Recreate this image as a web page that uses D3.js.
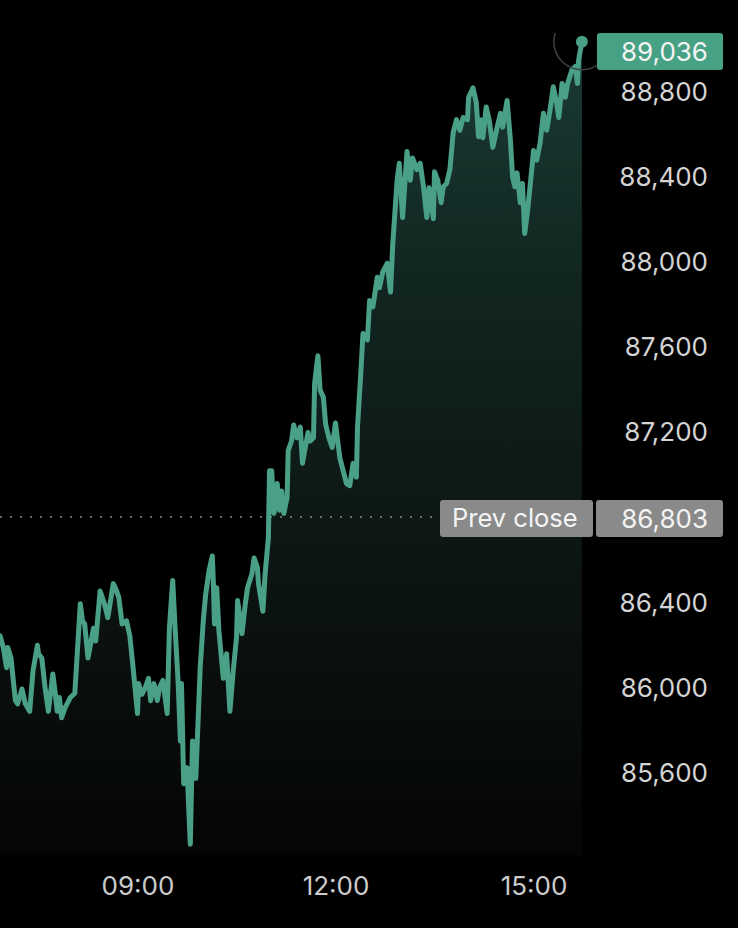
<!DOCTYPE html>
<html>
<head>
<meta charset="utf-8">
<script src="https://cdn.jsdelivr.net/npm/d3@7"></script>
<style>
  html, body { margin: 0; background: #000; }
  svg { display: block; }
  text { font-family: Inter, "Noto Sans", sans-serif; }
</style>
</head>
<body>
<svg id="chart" width="738" height="928"></svg>
<script>
// intraday ticks
const times = [
  "06:55","06:58","07:01","07:02","07:05","07:09","07:11","07:15","07:18","07:22",
  "07:25","07:29","07:30","07:33","07:36","07:39","07:43","07:45","07:47","07:49",
  "07:51","07:54","07:59","08:03","08:08","08:10","08:12","08:15","08:20","08:22",
  "08:26","08:30","08:33","08:38","08:41","08:43","08:46","08:50","08:53","08:56",
  "09:00","09:01","09:04","09:07","09:10","09:12","09:15","09:18","09:20","09:23",
  "09:27","09:29","09:32","09:34","09:37","09:39","09:40","09:42","09:45","09:48",
  "09:50","09:53","09:57","10:00","10:02","10:05","10:08","10:09","10:10","10:12",
  "10:14","10:18","10:21","10:24","10:27","10:30","10:31","10:35","10:38","10:40",
  "10:44","10:46","10:49","10:50","10:54","10:56","10:59","11:00","11:02","11:04",
  "11:07","11:09","11:11","11:13","11:16","11:17","11:20","11:22","11:25","11:28",
  "11:30","11:32","11:35","11:37","11:40","11:41","11:44","11:46","11:49","11:51",
  "11:54","11:57","12:00","12:02","12:04","12:07","12:10","12:13","12:16","12:19",
  "12:20","12:23","12:25","12:29","12:31","12:34","12:38","12:40","12:43","12:47",
  "12:50","12:52","12:56","12:58","13:01","13:05","13:08","13:10","13:14","13:17",
  "13:20","13:23","13:25","13:29","13:30","13:33","13:36","13:38","13:41","13:44",
  "13:47","13:50","13:53","13:56","14:00","14:01","14:05","14:08","14:10","14:12",
  "14:14","14:17","14:20","14:23","14:27","14:30","14:32","14:36","14:39","14:41",
  "14:43","14:45","14:48","14:50","14:52","14:55","14:59","15:00","15:03","15:06",
  "15:09","15:12","15:15","15:18","15:21","15:23","15:26","15:29","15:31","15:35",
  "15:38","15:40","15:41","15:44"
];

const prices = [
  86245,86190,86095,86190,86140,85940,85925,85995,85925,85890,
  86080,86200,86160,86140,86000,85890,86065,85985,85890,85955,
  85860,85905,85955,85975,86395,86315,86300,86140,86280,86220,
  86455,86395,86330,86490,86455,86425,86300,86315,86245,86095,
  85880,86020,85970,86000,86045,85940,86020,85940,86000,86035,
  85880,86280,86505,86300,86020,85750,86020,85550,85625,85265,
  85750,85575,86095,86330,86440,86550,86620,86490,86300,86470,
  86270,86045,86160,85890,86080,86235,86410,86255,86395,86470,
  86535,86610,86565,86490,86360,86535,86705,87020,87020,86820,
  86960,86835,86925,86820,86895,87115,87160,87235,87175,87225,
  87055,87115,87200,87160,87175,87430,87560,87400,87365,87240,
  87175,87130,87245,87160,87080,87020,86960,86950,87055,86990,
  87225,87480,87665,87635,87820,87790,87930,87880,87955,87995,
  87860,88080,88385,88465,88210,88520,88385,88490,88435,88465,
  88355,88210,88350,88205,88425,88385,88280,88355,88370,88435,
  88610,88670,88620,88680,88670,88775,88820,88750,88590,88670,
  88585,88730,88660,88540,88635,88700,88635,88760,88575,88400,
  88355,88420,88280,88370,88135,88260,88465,88525,88480,88560,
  88700,88620,88715,88825,88750,88680,88840,88775,88840,88905,
  88920,88840,88950,89036
];

const yTicks = [85600, 86000, 86400, 87200, 87600, 88000, 88400, 88800];
const xTicks = ["09:00", "12:00", "15:00"];
const timeRange = ["06:55", "15:45"];
const prevClose = 86803;
const lastPrice = 89036;

const parse = d3.timeParse("%H:%M");
const data = times.map((t, i) => ({ t: parse(t), v: prices[i] }));

const svg = d3.select("#chart");
const green = "#49a087";
const plotRight = 583, plotBottom = 855, axisX = 708;

const x = d3.scaleTime()
  .domain(timeRange.map(parse))
  .range([0, plotRight]);

const y = d3.scaleLinear()
  .domain([85600, 88800])
  .range([773, 92]);

// area gradient
const defs = svg.append("defs");
const grad = defs.append("linearGradient")
  .attr("id", "fade")
  .attr("gradientUnits", "userSpaceOnUse")
  .attr("x1", 0).attr("x2", 0)
  .attr("y1", y(lastPrice)).attr("y2", plotBottom);
grad.append("stop").attr("offset", 0).attr("stop-color", "#1a3a33");
grad.append("stop").attr("offset", 0.3).attr("stop-color", "#112520");
grad.append("stop").attr("offset", 0.75).attr("stop-color", "#0a100e");
grad.append("stop").attr("offset", 1).attr("stop-color", "#040505");

defs.append("clipPath").attr("id", "ringClip")
  .append("rect").attr("x", 0).attr("y", 33).attr("width", 597).attr("height", 100);

const area = d3.area()
  .x(d => x(d.t))
  .y0(plotBottom)
  .y1(d => y(d.v));

const line = d3.line()
  .x(d => x(d.t))
  .y(d => y(d.v));

svg.append("path")
  .attr("d", area(data))
  .attr("fill", "url(#fade)");

// prev close dotted line
svg.append("line")
  .attr("x1", 0).attr("x2", 440)
  .attr("y1", y(prevClose)).attr("y2", y(prevClose))
  .attr("stroke", "#8a8a8a")
  .attr("stroke-width", 1.5)
  .attr("stroke-dasharray", "2,8");

svg.append("path")
  .attr("d", line(data))
  .attr("fill", "none")
  .attr("stroke", green)
  .attr("stroke-width", 5)
  .attr("stroke-linejoin", "round")
  .attr("stroke-linecap", "round");

// y axis on the right
const yAxis = d3.axisRight(y)
  .tickValues(yTicks)
  .tickSize(0)
  .tickPadding(0)
  .tickFormat(d3.format(","));

const gy = svg.append("g")
  .attr("transform", `translate(${axisX},0)`)
  .call(yAxis);
gy.select(".domain").remove();
gy.selectAll("text")
  .attr("text-anchor", "end")
  .attr("fill", "#d4d4d4")
  .attr("font-size", 26);

// x axis
const xAxis = d3.axisBottom(x)
  .tickValues(xTicks.map(parse))
  .tickSize(0)
  .tickPadding(0)
  .tickFormat(d3.timeFormat("%H:%M"));

const gx = svg.append("g")
  .attr("transform", "translate(0,877)")
  .call(xAxis);
gx.select(".domain").remove();
gx.selectAll("text")
  .attr("fill", "#cccccc")
  .attr("font-size", 26);

// last point marker
const last = data[data.length - 1];
svg.append("circle")
  .attr("cx", x(last.t)).attr("cy", y(last.v))
  .attr("r", 28)
  .attr("fill", "none")
  .attr("stroke", "#3a4341")
  .attr("stroke-width", 1.5)
  .attr("clip-path", "url(#ringClip)");
svg.append("circle")
  .attr("cx", x(last.t)).attr("cy", y(last.v))
  .attr("r", 6)
  .attr("fill", green);

// last price tag
const tagY = Math.max(y(lastPrice), 51.5);
svg.append("rect")
  .attr("x", 597).attr("y", tagY - 18.5)
  .attr("width", 126).attr("height", 37)
  .attr("rx", 3)
  .attr("fill", "#47a184");
svg.append("text")
  .attr("x", axisX).attr("y", tagY)
  .attr("dy", "0.35em")
  .attr("text-anchor", "end")
  .attr("fill", "#f4f4f4")
  .attr("font-size", 26)
  .text(d3.format(",")(lastPrice));

// prev close tags
const pcY = y(prevClose) + 1.5;
svg.append("rect")
  .attr("x", 440).attr("y", pcY - 18.5)
  .attr("width", 153).attr("height", 37)
  .attr("rx", 3)
  .attr("fill", "#8a8a8a");
svg.append("rect")
  .attr("x", 596).attr("y", pcY - 18.5)
  .attr("width", 127).attr("height", 37)
  .attr("rx", 3)
  .attr("fill", "#8a8a8a");
svg.append("text")
  .attr("x", 452).attr("y", pcY)
  .attr("dy", "0.35em")
  .attr("fill", "#f4f4f4")
  .attr("font-size", 25.5)
  .text("Prev close");
svg.append("text")
  .attr("x", axisX).attr("y", pcY)
  .attr("dy", "0.35em")
  .attr("text-anchor", "end")
  .attr("fill", "#f4f4f4")
  .attr("font-size", 26)
  .text(d3.format(",")(prevClose));
</script>
</body>
</html>
